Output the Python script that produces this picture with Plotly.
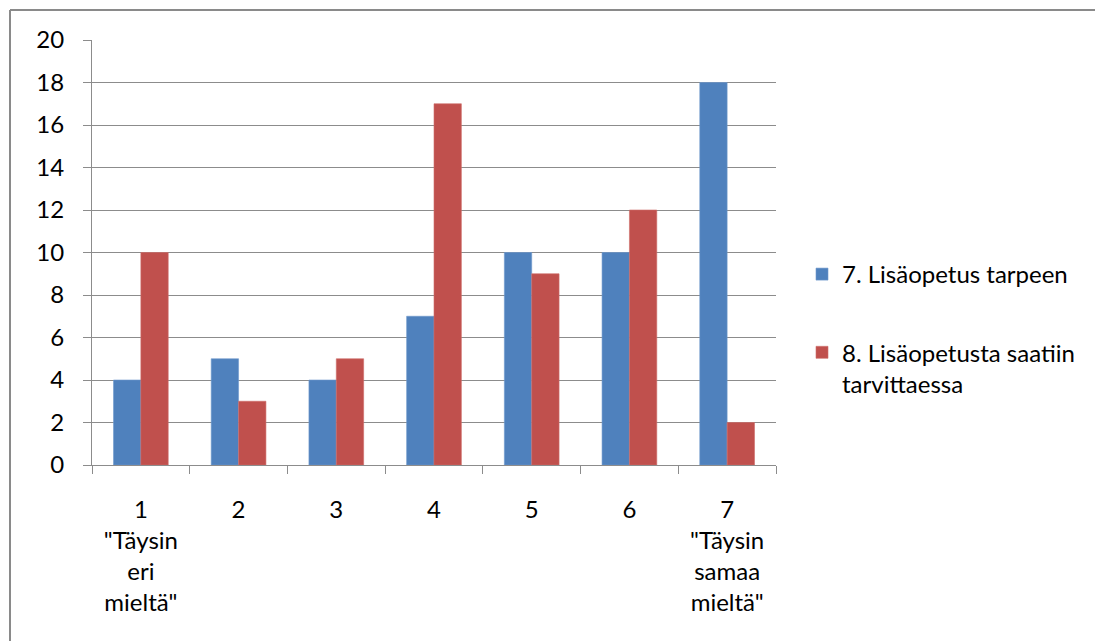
import plotly.graph_objects as go

# Survey answers on a 1–7 agreement scale
categories = ['1<br>"Täysin<br>eri<br>mieltä"', "2", "3", "4", "5", "6",
              '7<br>"Täysin<br>samaa<br>mieltä"']
need_values = [4, 5, 4, 7, 10, 10, 18]
received_values = [10, 3, 5, 17, 9, 12, 2]
series_names = ["7. Lisäopetus tarpeen", "8. Lisäopetusta saatiin<br>tarvittaessa"]
y_ticks = [0, 2, 4, 6, 8, 10, 12, 14, 16, 18, 20]

W, H = 1095, 641
L, R, T, B = 92, 1095 - 776, 40, 641 - 465
pw, ph = W - L - R, H - T - B

def px_x(p):
    return (p - L) / pw

def px_y(p):
    return 1 - (p - T) / ph

FONT = "Lato"
FS = 24
TXT = "#000000"
GRID = "#8c8c8c"

fig = go.Figure()
fig.add_trace(go.Bar(x=categories, y=need_values, name=series_names[0],
                     marker=dict(color="#4F81BD", line=dict(color="#6f98cc", width=0.6)),
                     legendgroup="a"))
fig.add_trace(go.Bar(x=categories, y=received_values, name=series_names[1],
                     marker=dict(color="#C0504D", line=dict(color="#cf6d6a", width=0.6)),
                     legendgroup="b"))

fig.update_layout(
    width=W, height=H,
    margin=dict(l=L, r=R, t=T, b=B, autoexpand=False),
    paper_bgcolor="white", plot_bgcolor="white",
    barmode="group", bargap=0.44, bargroupgap=0,
    font=dict(family=FONT, size=FS, color=TXT),
    legend=dict(x=px_x(802), y=px_y(252), xanchor="left", yanchor="top",
                traceorder="grouped", tracegroupgap=44, valign="top",
                font=dict(family=FONT, size=FS, color=TXT),
                bgcolor="rgba(0,0,0,0)"),
    xaxis=dict(type="category", showgrid=False, showline=True, linecolor=GRID,
               linewidth=1, ticks="outside", tickson="boundaries", ticklen=8,
               tickcolor=GRID, ticklabelstandoff=23, fixedrange=True),
    yaxis=dict(range=[0, 20], tickvals=y_ticks, showgrid=True, gridcolor=GRID,
               gridwidth=1, showline=True, linecolor=GRID, linewidth=1,
               ticks="outside", ticklen=8, tickcolor=GRID, zeroline=False,
               ticklabelstandoff=14, fixedrange=True),
    showlegend=True,
    shapes=[
        # chart frame (left and top edges visible)
        dict(type="line", xref="paper", yref="paper", x0=px_x(10), x1=px_x(W + 20),
             y0=px_y(10), y1=px_y(10), line=dict(color="#8a8a8a", width=2)),
        dict(type="line", xref="paper", yref="paper", x0=px_x(10), x1=px_x(10),
             y0=px_y(10), y1=px_y(H + 20), line=dict(color="#8a8a8a", width=2)),
    ],
)

fig.write_html("out.html")
